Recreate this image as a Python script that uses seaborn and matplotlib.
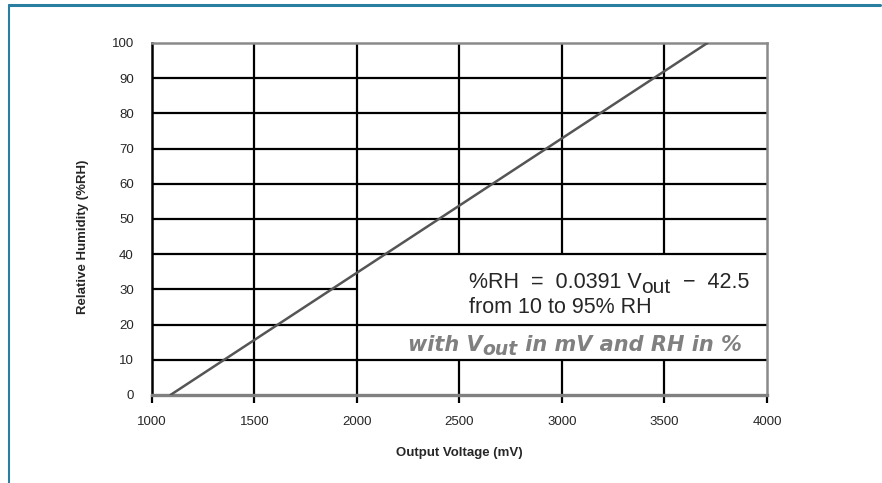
import matplotlib
matplotlib.use("Agg")
import matplotlib.pyplot as plt
from matplotlib.lines import Line2D
import seaborn as sns
import pandas as pd

# curve end points
voltage_mv = [1090, 3710]
humidity_rh = [0, 100]

x_ticks = [1000, 1500, 2000, 2500, 3000, 3500, 4000]
y_ticks = [0, 10, 20, 30, 40, 50, 60, 70, 80, 90, 100]

# grid layout: some cells are left open for the equation text
hgrid_full = [10, 20, 40, 50, 60, 70, 80, 90]
hgrid_short = [30]          # only from 1000 to 2000
vgrid_full = [1500, 2000]
vgrid_split = [2500, 3000, 3500]  # broken between 10 and 40

# text pieces: (text, is_subscript)
eq_line1 = [("%RH  =  0.0391 V", False), ("out", True), ("  \u2212  42.5", False)]
eq_line2 = "from 10 to 95% RH"
eq_note = [("with V", False), ("out", True), (" in mV and RH in %", False)]


def place_pieces(ax, fig, x, y, pieces, size, sub_size, sub_drop, **kw):
    # draw pieces one after another, measuring widths with the renderer
    renderer = fig.canvas.get_renderer()
    inv = ax.transData.inverted()
    x_px, y_px = ax.transData.transform((x, y))
    for txt, is_sub in pieces:
        fs = sub_size if is_sub else size
        yy = y_px - (sub_drop * fig.dpi / 72 if is_sub else 0)
        xd, yd = inv.transform((x_px, yy))
        t = ax.text(xd, yd, txt, fontsize=fs, va="baseline", ha="left", zorder=4, **kw)
        bb = t.get_window_extent(renderer=renderer)
        x_px = bb.x1


sns.set_style("white")
plt.rcParams["font.family"] = ["Liberation Sans", "DejaVu Sans"]

fig = plt.figure(figsize=(8.82, 4.83), dpi=100)
ax = fig.add_axes([0.1723, 0.1822, 0.6973, 0.729])

grid_kw = dict(color="black", linewidth=1.6, zorder=1)
ax.hlines(hgrid_full, 1000, 4000, **grid_kw)
ax.hlines(hgrid_short, 1000, 2000, **grid_kw)
ax.vlines(vgrid_full, 0, 100, **grid_kw)
ax.vlines(vgrid_split, 0, 10, **grid_kw)
ax.vlines(vgrid_split, 40, 100, **grid_kw)

df = pd.DataFrame({"voltage": voltage_mv, "rh": humidity_rh})
sns.lineplot(data=df, x="voltage", y="rh", color="#555555", linewidth=1.8, ax=ax, zorder=3)

ax.set_xlim(1000, 4000)
ax.set_ylim(0, 100)
ax.set_xticks(x_ticks)
ax.set_yticks(y_ticks)
ax.tick_params(axis="x", length=6, width=1.6, color="black", labelsize=9.5, pad=9, direction="out", bottom=True)
ax.tick_params(axis="y", which="major", length=0, labelsize=9.5, pad=13)
ax.set_yticks([0], minor=True)
ax.tick_params(axis="y", which="minor", length=7, width=1.6, color="black", left=True)

ax.set_xlabel("Output Voltage (mV)", fontsize=9.5, fontweight="bold", labelpad=14)
ax.set_ylabel("Relative Humidity (%RH)", fontsize=9.5, fontweight="bold")
ax.yaxis.set_label_coords(-0.102, 0.449)

ax.spines["left"].set_color("black")
ax.spines["left"].set_linewidth(1.8)
ax.spines["bottom"].set_color("#808080")
ax.spines["bottom"].set_linewidth(2.4)
for side in ["top", "right"]:
    ax.spines[side].set_color("#8a8a8a")
    ax.spines[side].set_linewidth(1.8)

place_pieces(ax, fig, 2545, 30.5, eq_line1, 15.5, 15, 4, family="Liberation Sans")
ax.text(2545, 23.2, eq_line2, fontsize=15.5, family="Liberation Sans", va="baseline", ha="left", zorder=4)
place_pieces(ax, fig, 2249, 12.6, eq_note, 15, 13.5, 3, family="DejaVu Sans",
             color="#808080", fontweight="bold", style="italic")

# page frame
fig.add_artist(Line2D([0.0102, 0.998], [0.989, 0.989], color="#2a7fa0", linewidth=2.2))
fig.add_artist(Line2D([0.0102, 0.0102], [0.0, 0.989], color="#2a7fa0", linewidth=1.5))

fig.savefig("out.png", dpi=100)
